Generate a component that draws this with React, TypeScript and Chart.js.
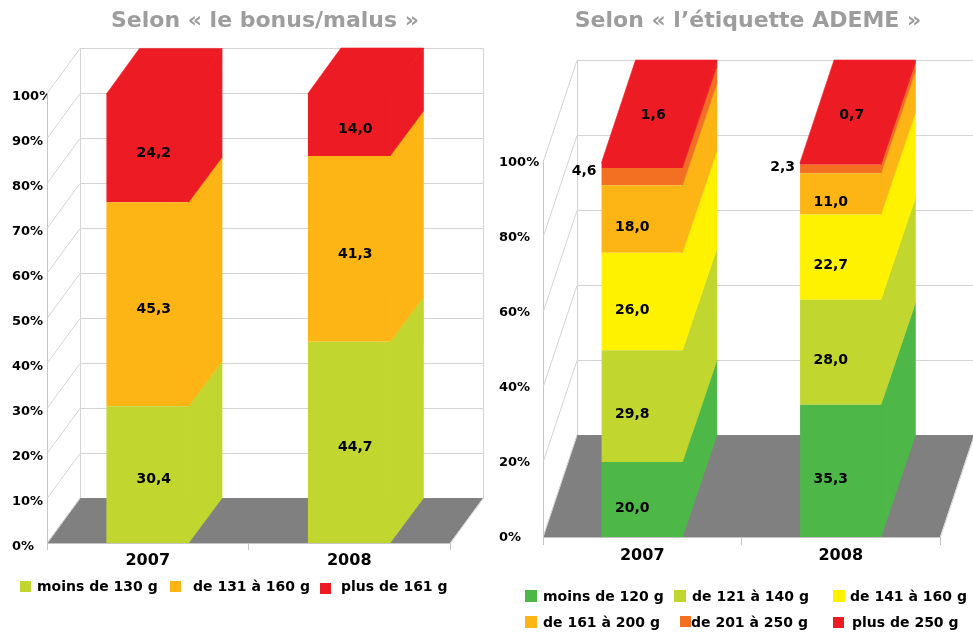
import { useEffect, useRef } from "react";
import { Chart, registerables } from "chart.js";
Chart.register(...registerables);

const FONT = "'DejaVu Sans', Verdana, sans-serif";

const years = ["2007", "2008"];

// Selon « le bonus/malus »
const bonusSeries = ["moins de 130 g", "de 131 à 160 g", "plus de 161 g"];
const bonusMoins130 = [30.4, 44.7];
const bonus131a160 = [45.3, 41.3];
const bonusPlus161 = [24.2, 14.0];
const bonusColors = ["#C1D72F", "#FDB515", "#ED1C24"];
const bonusTicks = [0, 10, 20, 30, 40, 50, 60, 70, 80, 90, 100];

// Selon « l’étiquette ADEME »
const ademeSeries = [
  "moins de 120 g",
  "de 121 à 140 g",
  "de 141 à 160 g",
  "de 161 à 200 g",
  "de 201 à 250 g",
  "plus de 250 g",
];
const ademeMoins120 = [20.0, 35.3];
const ademe121a140 = [29.8, 28.0];
const ademe141a160 = [26.0, 22.7];
const ademe161a200 = [18.0, 11.0];
const ademe201a250 = [4.6, 2.3];
const ademePlus250 = [1.6, 0.7];
const ademeColors = ["#4DB848", "#C1D72F", "#FFF200", "#FDB515", "#F36F21", "#ED1C24"];
const ademeTicks = [0, 20, 40, 60, 80, 100];

const GRID = "#d4d4d4";
const AXIS = "#c4c4c4";

type LegendPos = { sx: number; sy: number; tx: number; ty: number; s: number };

interface Panel {
  canvasLeft: number;
  width: number;
  title: string;
  titleX: number;
  titleY: number;
  series: string[];
  values: number[][];
  colors: string[];
  ticks: number[];
  pad: { left: number; right: number; top: number; bottom: number };
  yAxisW: number;
  xAxisH: number;
  yLabelOffset: number;
  xTickLen: number;
  xPad: number;
  dx: number;
  dy: number;
  valOff: [number, number];
  modes: string[];
  legend: LegendPos[];
}

const panels: Panel[] = [
  {
    canvasLeft: 0,
    width: 490,
    title: "Selon « le bonus/malus »",
    titleX: 265,
    titleY: 27,
    series: bonusSeries,
    values: [bonusMoins130, bonus131a160, bonusPlus161],
    colors: bonusColors,
    ticks: bonusTicks,
    pad: { left: 12, right: 40, top: 93, bottom: 60 },
    yAxisW: 35,
    xAxisH: 30,
    yLabelOffset: 4,
    xTickLen: 7,
    xPad: 1,
    dx: 33,
    dy: -45,
    valOff: [6, 5],
    modes: ["center", "center", "center"],
    legend: [
      { sx: 20, sy: 581, tx: 37, ty: 591, s: 11 },
      { sx: 170, sy: 581, tx: 193, ty: 591, s: 11 },
      { sx: 320, sy: 583, tx: 341, ty: 591, s: 11 },
    ],
  },
  {
    canvasLeft: 490,
    width: 483,
    title: "Selon « l’étiquette ADEME »",
    titleX: 258,
    titleY: 27,
    series: ademeSeries,
    values: [ademeMoins120, ademe121a140, ademe141a160, ademe161a200, ademe201a250, ademePlus250],
    colors: ademeColors,
    ticks: ademeTicks,
    pad: { left: 9, right: 33, top: 162, bottom: 66 },
    yAxisW: 44,
    xAxisH: 30,
    yLabelOffset: 1,
    xTickLen: 8,
    xPad: 1.5,
    dx: 34,
    dy: -102,
    valOff: [-10, 8.5],
    modes: ["center", "center", "center", "center", "left", "top"],
    legend: [
      { sx: 35, sy: 590, tx: 53, ty: 601, s: 12 },
      { sx: 184, sy: 590, tx: 202, ty: 601, s: 12 },
      { sx: 343, sy: 590, tx: 360, ty: 601, s: 12 },
      { sx: 35, sy: 616, tx: 53, ty: 627, s: 12 },
      { sx: 190, sy: 616, tx: 201, ty: 627, s: 11 },
      { sx: 343, sy: 617, tx: 362, ty: 627, s: 11 },
    ],
  },
];

const fmt = (v: number) => v.toFixed(1).replace(".", ",");

function make3d(p: Panel) {
  return {
    id: "fake3d",
    beforeDatasetsDraw(chart: any) {
      const { ctx, chartArea: ca } = chart;
      const ys = chart.scales.y;
      const { dx, dy } = p;
      const y0 = ys.getPixelForValue(0);
      const yTop = ys.getPixelForValue(100);
      ctx.save();
      // floor
      ctx.fillStyle = "#808080";
      ctx.beginPath();
      ctx.moveTo(ca.left, y0);
      ctx.lineTo(ca.right, y0);
      ctx.lineTo(ca.right + dx, y0 + dy);
      ctx.lineTo(ca.left + dx, y0 + dy);
      ctx.closePath();
      ctx.fill();
      ctx.strokeStyle = GRID;
      ctx.lineWidth = 1;
      // floor right edge
      ctx.beginPath();
      ctx.moveTo(ca.right + 0.5, y0);
      ctx.lineTo(ca.right + dx + 0.5, y0 + dy);
      ctx.stroke();
      // walls
      for (const v of p.ticks) {
        const yy = Math.round(ys.getPixelForValue(v)) + 0.5;
        ctx.beginPath();
        ctx.moveTo(ca.left, yy);
        ctx.lineTo(ca.left + dx, yy + dy);
        ctx.stroke();
        if (v > 0) {
          ctx.beginPath();
          ctx.moveTo(ca.left + dx, yy + dy);
          ctx.lineTo(ca.right + dx + 1, yy + dy);
          ctx.stroke();
        }
      }
      const bl = Math.round(ca.left + dx) + 0.5;
      const br = Math.round(ca.right + dx) + 0.5;
      ctx.beginPath();
      ctx.moveTo(bl, y0 + dy);
      ctx.lineTo(bl, yTop + dy);
      ctx.moveTo(br, y0 + dy);
      ctx.lineTo(br, yTop + dy);
      ctx.stroke();
      ctx.restore();
    },
    afterDatasetsDraw(chart: any) {
      const { ctx } = chart;
      const { dx, dy } = p;
      const n = chart.data.datasets.length;
      ctx.save();
      // side and top faces
      for (let i = 0; i < n; i++) {
        const meta = chart.getDatasetMeta(i);
        const color = chart.data.datasets[i].backgroundColor;
        ctx.fillStyle = color;
        ctx.strokeStyle = color;
        ctx.lineWidth = 0.6;
        meta.data.forEach((el: any) => {
          const { x, y, base, width } = el.getProps(["x", "y", "base", "width"], true);
          const x0 = x - width / 2;
          const x1 = x + width / 2;
          ctx.beginPath();
          ctx.moveTo(x1 - 0.5, base);
          ctx.lineTo(x1 - 0.5, y);
          ctx.lineTo(x1 + dx, y + dy);
          ctx.lineTo(x1 + dx, base + dy);
          ctx.closePath();
          ctx.fill();
          ctx.stroke();
          if (i === n - 1) {
            ctx.beginPath();
            ctx.moveTo(x0, y + 0.5);
            ctx.lineTo(x1, y + 0.5);
            ctx.lineTo(x1 + dx, y + dy);
            ctx.lineTo(x0 + dx, y + dy);
            ctx.closePath();
            ctx.fill();
            ctx.stroke();
          }
        });
      }
      // value labels
      ctx.fillStyle = "#000";
      ctx.font = `bold 14px ${FONT}`;
      ctx.textBaseline = "middle";
      for (let i = 0; i < n; i++) {
        const meta = chart.getDatasetMeta(i);
        const vals = chart.data.datasets[i].data as number[];
        meta.data.forEach((el: any, j: number) => {
          const { x, y, base, width } = el.getProps(["x", "y", "base", "width"], true);
          const mode = p.modes[i];
          const txt = fmt(vals[j]);
          if (mode === "left") {
            ctx.textAlign = "right";
            ctx.fillText(txt, x - width / 2 - 5, y + 3);
          } else if (mode === "top") {
            ctx.textAlign = "center";
            ctx.fillText(txt, x + dx / 2 - 6, y + dy / 2 + 4);
          } else {
            ctx.textAlign = "center";
            ctx.fillText(txt, x + p.valOff[0], (y + base) / 2 + p.valOff[1]);
          }
        });
      }
      ctx.restore();
    },
    afterDraw(chart: any) {
      const { ctx } = chart;
      ctx.save();
      ctx.fillStyle = "#9d9d9d";
      ctx.font = `bold 22px ${FONT}`;
      ctx.textAlign = "center";
      ctx.textBaseline = "alphabetic";
      ctx.fillText(p.title, p.titleX, p.titleY);
      // legend
      ctx.font = `bold 14px ${FONT}`;
      ctx.textAlign = "left";
      chart.data.datasets.forEach((ds: any, i: number) => {
        const l = p.legend[i];
        ctx.fillStyle = ds.backgroundColor;
        ctx.fillRect(l.sx, l.sy, l.s, l.s);
        ctx.fillStyle = "#000";
        ctx.fillText(ds.label, l.tx, l.ty);
      });
      ctx.restore();
    },
  };
}

function PanelChart({ p }: { p: Panel }) {
  const ref = useRef<HTMLCanvasElement | null>(null);
  useEffect(() => {
    if (!ref.current) return;
    const chart = new Chart(ref.current, {
      type: "bar",
      data: {
        labels: years,
        datasets: p.series.map((s, i) => ({
          label: s,
          data: p.values[i],
          backgroundColor: p.colors[i],
          borderWidth: 0,
          barPercentage: 1,
          categoryPercentage: 0.41,
        })),
      },
      options: {
        responsive: false,
        animation: false,
        devicePixelRatio: 1,
        layout: { padding: p.pad },
        plugins: {
          legend: { display: false },
          title: { display: false },
          tooltip: { enabled: false },
        },
        scales: {
          x: {
            stacked: true,
            grid: {
              display: true,
              drawOnChartArea: false,
              drawTicks: true,
              tickLength: p.xTickLen,
              color: AXIS,
              offset: true,
            },
            border: { display: true, color: AXIS },
            ticks: {
              color: "#000",
              font: { family: FONT, size: 16, weight: "bold" },
              padding: p.xPad,
            },
            afterFit: (s: any) => {
              s.height = p.xAxisH;
            },
          },
          y: {
            stacked: true,
            min: 0,
            max: 100,
            grid: { display: false },
            border: { display: true, color: AXIS },
            ticks: {
              color: "#000",
              font: { family: FONT, size: 13, weight: "bold" },
              crossAlign: "far",
              labelOffset: p.yLabelOffset,
              callback: (v: any) => `${v}%`,
            },
            afterBuildTicks: (s: any) => {
              s.ticks = p.ticks.map((v) => ({ value: v }));
            },
            afterFit: (s: any) => {
              s.width = p.yAxisW;
            },
          },
        },
      } as any,
      plugins: [make3d(p)],
    });
    return () => chart.destroy();
  }, [p]);
  return (
    <canvas
      ref={ref}
      width={p.width}
      height={633}
      style={{ position: "absolute", left: p.canvasLeft, top: 0, width: p.width, height: 633 }}
    />
  );
}

export default function App() {
  return (
    <div style={{ position: "absolute", left: 0, top: 0, width: 973, height: 633, background: "#fff", overflow: "hidden" }}>
      {panels.map((p, i) => (
        <PanelChart key={i} p={p} />
      ))}
    </div>
  );
}
